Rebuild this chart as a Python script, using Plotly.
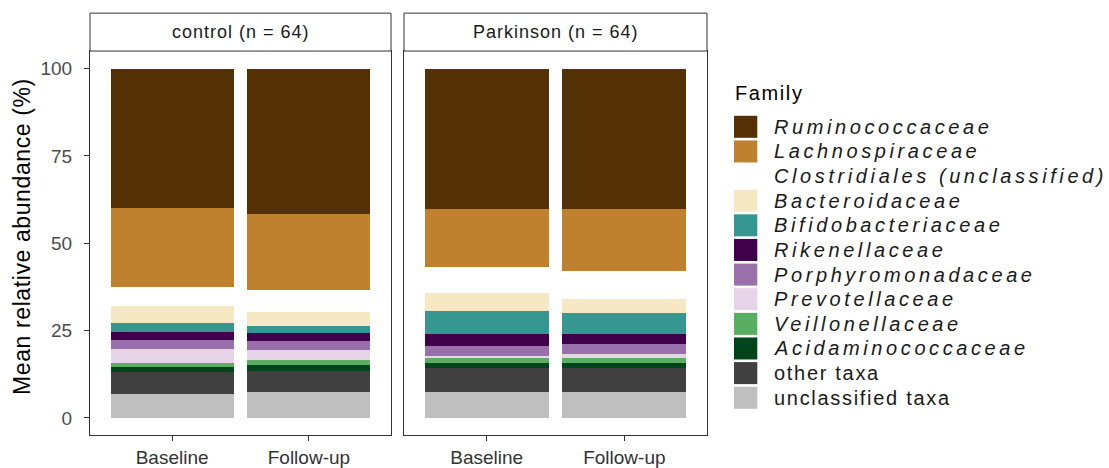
import plotly.graph_objects as go

# Taxonomic families, top of the stack first
families = [
    "Ruminococcaceae", "Lachnospiraceae", "Clostridiales (unclassified)",
    "Bacteroidaceae", "Bifidobacteriaceae", "Rikenellaceae",
    "Porphyromonadaceae", "Prevotellaceae", "Veillonellaceae",
    "Acidaminococcaceae", "other taxa", "unclassified taxa",
]
italic_families = families[:10]
family_colors = [
    "#543005", "#BF812D", "#FFFFFF", "#F6E8C3", "#35978F", "#40004B",
    "#9970AB", "#E7D4E8", "#5AAE61", "#00441B", "#404040", "#BFBFBF",
]

timepoints = ["Baseline", "Follow-up"]
groups = ["control (n = 64)", "Parkinson (n = 64)"]

# Mean relative abundance (%) per family, same order as `families`
control_baseline = [39.9, 22.6, 5.6, 4.7, 2.7, 2.1, 2.6, 4.2, 1.0, 1.6, 6.2, 6.8]
control_followup = [41.7, 21.7, 6.4, 3.8, 2.1, 2.4, 2.6, 2.8, 1.4, 1.6, 6.1, 7.4]
parkinson_baseline = [40.3, 16.5, 7.4, 5.1, 6.6, 3.5, 2.9, 0.5, 1.6, 1.3, 6.9, 7.4]
parkinson_followup = [40.1, 17.9, 8.0, 4.0, 5.9, 2.9, 3.0, 1.0, 1.4, 1.5, 6.8, 7.5]

y_ticks = [0, 25, 50, 75, 100]

W, H = 1109, 468
FONT = "Liberation Sans, Arial, sans-serif"
LINE = "#333333"


def px(x):
    return x / W


def py(y):
    return 1 - y / H


panel_x = [(90, 391), (404, 707)]
panel_top, panel_bottom = 51.7, 441.0
strip_top = 13.3

fig = go.Figure()

panels = [
    ("x", "y", control_baseline, control_followup),
    ("x2", "y2", parkinson_baseline, parkinson_followup),
]
for xa, ya, base, follow in panels:
    # first trace sits at the bottom of the stack
    for i in reversed(range(len(families))):
        fig.add_trace(go.Bar(
            x=timepoints, y=[base[i], follow[i]],
            xaxis=xa, yaxis=ya,
            name=families[i],
            marker=dict(color=family_colors[i], line=dict(width=0)),
            showlegend=False,
            hovertemplate="%{x}<br>" + families[i] + ": %{y:.1f}%<extra></extra>",
        ))

axis_common = dict(
    showline=True, mirror=True, linecolor=LINE, linewidth=1,
    showgrid=False, zeroline=False,
)
ydomain = [py(panel_bottom), py(panel_top)]

fig.update_layout(
    width=W, height=H,
    margin=dict(l=0, r=0, t=0, b=0),
    paper_bgcolor="white", plot_bgcolor="white",
    barmode="stack", bargap=0.1,
    font=dict(family=FONT, color="#1a1a1a"),
    xaxis=dict(domain=[px(panel_x[0][0]), px(panel_x[0][1])], anchor="y",
               range=[-0.6, 1.6], ticks="outside", ticklen=5, tickcolor=LINE,
               tickfont=dict(size=19, color="#333333"), **axis_common),
    yaxis=dict(domain=ydomain, anchor="x", range=[-5, 105],
               tickvals=y_ticks, ticks="outside", ticklen=5, tickcolor=LINE,
               ticklabelstandoff=8,
               tickfont=dict(size=19, color="#4D4D4D"), **axis_common),
    xaxis2=dict(domain=[px(panel_x[1][0]), px(panel_x[1][1])], anchor="y2",
                range=[-0.6, 1.6], ticks="outside", ticklen=5, tickcolor=LINE,
                tickfont=dict(size=19, color="#333333"), **axis_common),
    yaxis2=dict(domain=ydomain, anchor="x2", range=[-5, 105], matches="y",
                showticklabels=False, ticks="", **axis_common),
)

shapes = []
annotations = []

# facet strips
for (x0, x1), label in zip(panel_x, groups):
    shapes.append(dict(type="rect", xref="paper", yref="paper",
                       x0=px(x0), x1=px(x1), y0=py(panel_top), y1=py(strip_top),
                       line=dict(color=LINE, width=1), fillcolor="white"))
    annotations.append(dict(
        xref="paper", yref="paper", x=px((x0 + x1) / 2), y=py((strip_top + panel_top) / 2),
        text=f'<span style="letter-spacing:1px">{label}</span>',
        showarrow=False, xanchor="center", yanchor="middle",
        font=dict(size=18, color="#1a1a1a"),
    ))

# y-axis title
annotations.append(dict(
    xref="paper", yref="paper", x=px(22), y=py(240),
    text='<span style="letter-spacing:0.6px">Mean relative abundance (%)</span>',
    textangle=-90, showarrow=False, xanchor="center", yanchor="middle",
    font=dict(size=23, color="#000000"),
))

# legend
annotations.append(dict(
    xref="paper", yref="paper", x=px(733), y=py(94),
    text='<span style="letter-spacing:1.6px">Family</span>',
    showarrow=False, xanchor="left", yanchor="middle",
    font=dict(size=20, color="#000000"),
))
key_top0, key_step, key_h = 117.3, 24.95, 22.3
key_x0, key_x1, text_x = 734, 757.3, 771.7
for i, (fam, col) in enumerate(zip(families, family_colors)):
    top = key_top0 + i * key_step
    shapes.append(dict(type="rect", xref="paper", yref="paper",
                       x0=px(key_x0), x1=px(key_x1), y0=py(top + key_h), y1=py(top),
                       line=dict(width=0), fillcolor=col))
    if fam in italic_families:
        label = f'<span style="letter-spacing:3.6px"><i>{fam}</i></span>'
    else:
        label = f'<span style="letter-spacing:1.7px">{fam}</span>'
    annotations.append(dict(
        xref="paper", yref="paper", x=px(text_x), y=py(top + key_h / 2),
        text=label, showarrow=False, xanchor="left", yanchor="middle",
        font=dict(size=20, color="#1a1a1a"),
    ))

fig.update_layout(shapes=shapes, annotations=annotations)

fig.write_html("out.html")
